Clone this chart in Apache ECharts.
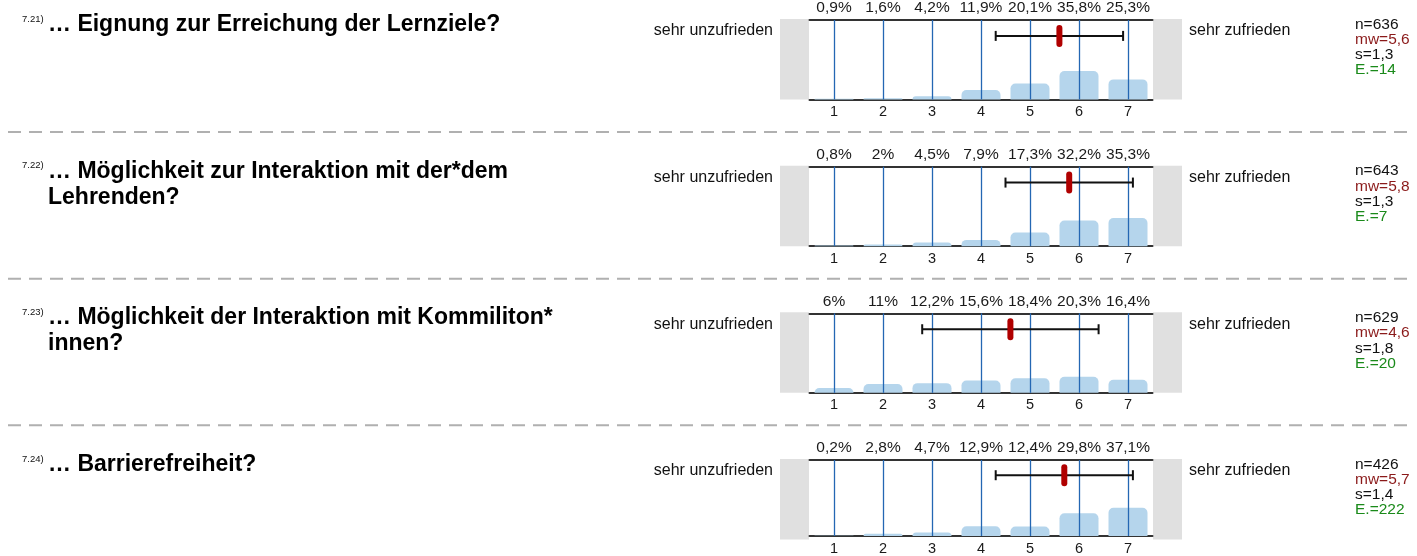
<!DOCTYPE html>
<html>
<head>
<meta charset="utf-8">
<script src="https://cdn.jsdelivr.net/npm/echarts@6/dist/echarts.min.js"></script>
<style>
  html, body { margin: 0; padding: 0; background: #fff; }
  #chart { width: 1417px; height: 556px; }
</style>
</head>
<body>
<div id="chart"></div>
<script>
// Rating scale 1..7 and the four survey items
const categories = ['1', '2', '3', '4', '5', '6', '7'];
const questionIds = ['7.21)', '7.22)', '7.23)', '7.24)'];
const questionLines = [
  ['… Eignung zur Erreichung der Lernziele?'],
  ['… Möglichkeit zur Interaktion mit der*dem', 'Lehrenden?'],
  ['… Möglichkeit der Interaktion mit Kommiliton*', 'innen?'],
  ['… Barrierefreiheit?']
];
// Share of answers per scale point, in percent
const shares = [
  [0.9, 1.6, 4.2, 11.9, 20.1, 35.8, 25.3],
  [0.8, 2, 4.5, 7.9, 17.3, 32.2, 35.3],
  [6, 11, 12.2, 15.6, 18.4, 20.3, 16.4],
  [0.2, 2.8, 4.7, 12.9, 12.4, 29.8, 37.1]
];
const counts = [636, 643, 629, 426];
const means = [5.6, 5.8, 4.6, 5.7];
const stdDevs = [1.3, 1.3, 1.8, 1.4];
const abstentions = [14, 7, 20, 222];
const leftPole = 'sehr unzufrieden';
const rightPole = 'sehr zufrieden';

const FONT = '"Liberation Sans", Arial, Helvetica, sans-serif';
const fmt = v => String(v).replace('.', ',');

const chart = echarts.init(document.getElementById('chart'), null, { renderer: 'canvas' });

const PANEL_STEP = 146.67;
const GRID_LEFT = 809.5, GRID_W = 343, GRID_H = 79.5, FIRST_TOP = 20;

const grids = [], xAxes = [], yAxes = [], series = [], graphics = [];

questionIds.forEach((qid, i) => {
  const top = FIRST_TOP + i * PANEL_STEP;
  grids.push({ left: GRID_LEFT, top: top, width: GRID_W, height: GRID_H });

  // bottom scale axis
  xAxes.push({
    type: 'category', gridIndex: i, position: 'bottom', data: categories,
    axisLine: { lineStyle: { color: '#333', width: 2 } },
    axisTick: { show: false },
    axisLabel: { interval: 0, color: '#1a1a1a', fontSize: 14.5, fontFamily: FONT, margin: 5 }
  });
  // top axis carrying the percentages
  xAxes.push({
    type: 'category', gridIndex: i, position: 'top', data: categories,
    axisLine: { lineStyle: { color: '#333', width: 2 } },
    axisTick: { show: false },
    axisLabel: {
      interval: 0, hideOverlap: false,
      color: '#1a1a1a', fontSize: 15.5, fontFamily: FONT, margin: 4,
      formatter: (val, idx) => fmt(shares[i][idx]) + '%'
    }
  });
  // continuous scale for mean and spread
  xAxes.push({ type: 'value', gridIndex: i, min: 0.5, max: 7.5, show: false });
  yAxes.push({ type: 'value', gridIndex: i, min: 0, max: 100, show: false });

  series.push({
    type: 'bar', xAxisIndex: 3 * i, yAxisIndex: i,
    data: shares[i], barWidth: 39,
    itemStyle: { color: '#b5d5ec', borderRadius: [5, 5, 0, 0] },
    silent: true,
    markLine: {
      silent: true, symbol: 'none', animation: false,
      label: { show: false },
      lineStyle: { color: '#2467b3', width: 1.3, type: 'solid' },
      data: categories.map(c => ({ xAxis: c }))
    },
    z: 2
  });

  series.push({
    type: 'custom', xAxisIndex: 3 * i + 2, yAxisIndex: i,
    data: [[means[i], stdDevs[i]]],
    z: 5, silent: true,
    renderItem: (params, api) => {
      const m = api.value(0), sd = api.value(1);
      const pL = api.coord([m - sd, 80]);
      const pR = api.coord([m + sd, 80]);
      const pM = api.coord([m, 80]);
      const ink = { stroke: '#111', lineWidth: 2 };
      return {
        type: 'group',
        children: [
          { type: 'line', shape: { x1: pL[0], y1: pL[1], x2: pR[0], y2: pR[1] }, style: ink },
          { type: 'line', shape: { x1: pL[0], y1: pL[1] - 5, x2: pL[0], y2: pL[1] + 5 }, style: ink },
          { type: 'line', shape: { x1: pR[0], y1: pR[1] - 5, x2: pR[0], y2: pR[1] + 5 }, style: ink },
          { type: 'rect', shape: { x: pM[0] - 3, y: pM[1] - 11, width: 6, height: 22, r: 3 },
            style: { fill: '#b00000' } }
        ]
      };
    }
  });

  // grey end caps of the scale
  graphics.push({ type: 'rect', z: 0, silent: true,
    shape: { x: 780, y: top - 1, width: 29, height: GRID_H + 1 }, style: { fill: '#e0e0e0' } });
  graphics.push({ type: 'rect', z: 0, silent: true,
    shape: { x: 1153, y: top - 1, width: 29, height: GRID_H + 1 }, style: { fill: '#e0e0e0' } });

  // item number and question text
  const titleY = top + 4.5;
  graphics.push({ type: 'text', x: 22, y: titleY - 5.5, silent: true,
    style: { text: qid, font: '9.5px ' + FONT, fill: '#111', textVerticalAlign: 'middle' } });
  questionLines[i].forEach((line, k) => {
    graphics.push({ type: 'text', x: 48, y: titleY + k * 26, silent: true,
      style: { text: line, font: 'bold 23px ' + FONT, fill: '#000', textVerticalAlign: 'middle' } });
  });

  // scale poles
  graphics.push({ type: 'text', x: 773, y: top + 11, silent: true,
    style: { text: leftPole, font: '16px ' + FONT, fill: '#111', textAlign: 'right', textVerticalAlign: 'middle' } });
  graphics.push({ type: 'text', x: 1189, y: top + 11, silent: true,
    style: { text: rightPole, font: '16px ' + FONT, fill: '#111', textAlign: 'left', textVerticalAlign: 'middle' } });

  // summary statistics
  const stats = [
    ['n=' + counts[i], '#111'],
    ['mw=' + fmt(means[i]), '#8b1a1a'],
    ['s=' + fmt(stdDevs[i]), '#111'],
    ['E.=' + abstentions[i], '#1a8a1a']
  ];
  stats.forEach((st, k) => {
    graphics.push({ type: 'text', x: 1355, y: top + 4.5 + k * 15.2, silent: true,
      style: { text: st[0], font: '15.5px ' + FONT, fill: st[1], textVerticalAlign: 'middle' } });
  });

  // dashed separator below each item but the last
  if (i < questionIds.length - 1) {
    const sy = top + 112;
    graphics.push({ type: 'line', silent: true,
      shape: { x1: 8, y1: sy, x2: 1412, y2: sy },
      style: { stroke: '#b0b0b0', lineWidth: 2, lineDash: [13, 8] } });
  }
});

chart.setOption({
  animation: false,
  backgroundColor: '#ffffff',
  grid: grids,
  xAxis: xAxes,
  yAxis: yAxes,
  series: series,
  graphic: { elements: graphics }
});
</script>
</body>
</html>
